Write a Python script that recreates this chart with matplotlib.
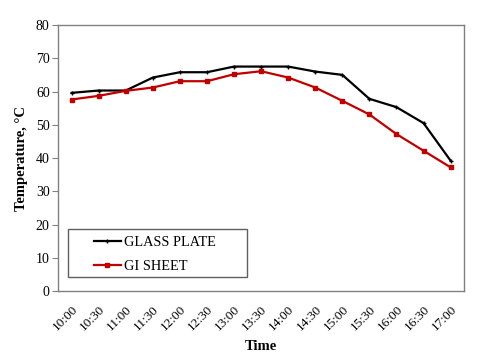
import matplotlib
matplotlib.use('Agg')
import matplotlib.pyplot as plt
from matplotlib.patches import Rectangle

times = ['10:00', '10:30', '11:00', '11:30', '12:00', '12:30', '13:00', '13:30',
         '14:00', '14:30', '15:00', '15:30', '16:00', '16:30', '17:00']
glass_plate = [59.6, 60.3, 60.3, 64.2, 65.8, 65.8, 67.5, 67.5, 67.5, 66.0, 65.0, 57.8, 55.3, 50.5, 39.2]
gi_sheet = [57.6, 58.7, 60.2, 61.2, 63.1, 63.1, 65.2, 66.1, 64.2, 61.2, 57.2, 53.1, 47.2, 42.2, 37.2]

plt.rcParams['font.family'] = ['Liberation Serif', 'DejaVu Serif']

fig = plt.figure(figsize=(4.8, 3.52), dpi=100)
ax = fig.add_axes([0.121, 0.173, 0.846, 0.756])

x = list(range(len(times)))
ax.plot(x, glass_plate, color='black', lw=1.6, marker='+', ms=3, mew=1.0, label='GLASS PLATE')
ax.plot(x, gi_sheet, color='#c00000', lw=1.6, marker='s', ms=2.5, label='GI SHEET')

ax.set_xlim(-0.5, len(times) - 0.5)
ax.set_ylim(0, 80)
ax.set_yticks(range(0, 81, 10))
ax.set_xticks(x)
ax.set_xticklabels(times, rotation=45, ha='right', rotation_mode='anchor', fontsize=9.5)
ax.tick_params(axis='y', labelsize=10, length=4, color='#808080', pad=2)
ax.tick_params(axis='x', length=0, pad=9)

for s in ax.spines.values():
    s.set_color('#808080')
    s.set_linewidth(1)

ax.set_xlabel('Time', fontsize=10.5, fontweight='bold', labelpad=5)
ax.set_ylabel('Temperature, \u00b0C', fontsize=10.5, fontweight='bold', labelpad=6)

# legend box drawn by hand so the wide left padding matches
ax.add_patch(Rectangle((0.025, 0.053), 0.441, 0.18, transform=ax.transAxes,
                       facecolor='white', edgecolor='#606060', lw=1, zorder=4))
leg = ax.legend(loc='upper left', bbox_to_anchor=(0.088, 0.207), fontsize=10.3,
                frameon=False, borderpad=0, labelspacing=0.76, handlelength=1.9,
                handletextpad=0.2, borderaxespad=0)
leg.set_zorder(5)

fig.savefig('out.png', dpi=100)
